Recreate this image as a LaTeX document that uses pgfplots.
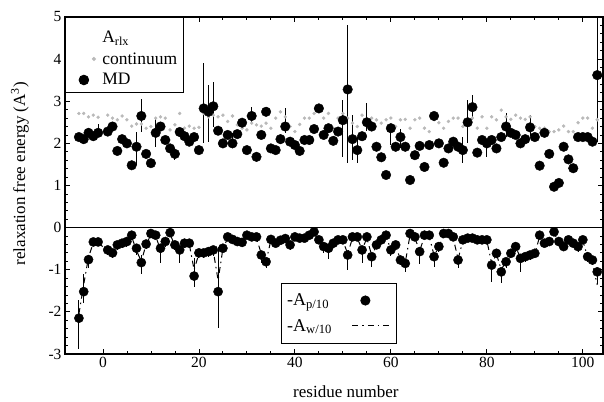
\documentclass[border=0pt]{standalone}
\usepackage{fontspec}
\setmainfont{Liberation Serif}
\usepackage{pgfplots}
\usepackage{pgfplotstable}
\pgfplotsset{compat=1.18}

% residue, MD relaxation (+/-), continuum, -A_p/10 (+/-), -A_w/10
\pgfplotstableread{
res md ep em cont ap aep aem aw
-5 2.15 .08 .08 2.71 -2.15 .43 .72 -2.05
-4 2.10 .08 .08 2.71 -1.52 .43 .28 -1.35
-3 2.25 .08 .08 2.63 -0.76 .05 .20 -0.70
-2 2.17 .08 .08 2.67 -0.34 .05 .10 -0.36
-1 2.25 .20 .08 2.62 -0.34 .05 .10 -0.36
1 2.28 .10 .10 2.67 -0.53 .05 .12 -0.55
2 2.40 .10 .10 2.60 -0.60 .05 .12 -0.62
3 1.82 .10 .10 2.56 -0.41 .05 .12 -0.43
4 2.10 .10 .10 2.65 -0.37 .05 .12 -0.39
5 2.00 .10 .10 2.56 -0.33 .05 .12 -0.35
6 1.48 .10 .10 2.41 -0.18 .05 .12 -0.22
7 1.92 .36 .43 2.46 -0.49 .05 .15 -0.55
8 2.65 .40 .37 2.46 -0.83 .18 .26 -0.80
9 1.75 .10 .10 2.36 -0.39 .05 .12 -0.40
10 1.53 .10 .10 2.40 -0.14 .05 .10 -0.17
11 2.25 .35 .33 2.60 -0.18 .05 .10 -0.21
12 2.40 .10 .10 2.63 -0.49 .05 .36 -0.52
13 2.08 .10 .10 2.60 -0.33 .05 .12 -0.35
14 1.88 .10 .10 2.32 -0.12 .05 .10 -0.15
15 1.75 .10 .15 2.44 -0.41 .05 .12 -0.44
16 2.27 .10 .10 2.71 -0.53 .05 .30 -0.55
17 2.17 .10 .10 2.36 -0.37 .05 .12 -0.40
18 2.04 .10 .10 2.41 -0.37 .05 .12 -0.40
19 2.15 .10 .10 2.36 -1.15 .42 .25 -1.00
20 1.84 .10 .10 2.38 -0.60 .05 .12 -0.62
21 2.83 1.07 .83 2.71 -0.60 .05 .12 -0.62
22 2.75 .64 .71 2.63 -0.57 .05 .12 -0.60
23 2.88 .58 .48 2.67 -0.53 .05 .15 -0.56
24 2.30 .10 .10 2.63 -1.52 1.07 .87 -1.25
25 2.00 .10 .10 2.67 -0.49 .05 .12 -0.50
26 2.20 .10 .10 2.52 -0.22 .05 .10 -0.25
27 2.00 .25 .11 2.65 -0.28 .05 .10 -0.30
28 2.22 .10 .10 2.44 -0.33 .05 .10 -0.35
29 2.49 .10 .10 2.36 -0.35 .05 .10 -0.37
30 1.84 .10 .10 2.32 -0.18 .05 .10 -0.21
31 2.65 .22 .17 2.48 -0.22 .05 .10 -0.25
32 1.68 .10 .10 2.44 -0.22 .05 .10 -0.25
33 2.20 .10 .10 2.41 -0.65 .05 .20 -0.62
34 2.75 .10 .10 2.48 -0.81 .05 .15 -0.80
35 1.88 .10 .10 2.36 -0.28 .05 .10 -0.30
36 1.84 .10 .10 2.60 -0.37 .05 .10 -0.39
37 2.10 .10 .10 2.75 -0.30 .05 .10 -0.32
38 2.40 .43 .15 2.63 -0.26 .05 .10 -0.28
39 2.04 .10 .10 2.40 -0.41 .05 .12 -0.43
40 1.96 .10 .10 2.28 -0.22 .05 .10 -0.24
41 1.82 .10 .10 2.45 -0.25 .05 .10 -0.27
42 2.08 .10 .10 2.60 -0.25 .05 .10 -0.27
43 2.08 .10 .10 2.60 -0.18 .05 .10 -0.20
44 2.34 .10 .10 2.71 -0.10 .05 .10 -0.13
45 2.83 .10 .10 2.83 -0.29 .05 .10 -0.31
46 2.20 .10 .10 2.60 -0.45 .05 .15 -0.46
47 2.36 .10 .10 2.71 -0.49 .05 .25 -0.50
48 2.06 .10 .10 2.36 -0.37 .05 .12 -0.39
49 2.28 .10 .10 2.60 -0.29 .05 .10 -0.31
50 2.55 .48 .87 2.71 -0.29 .05 .10 -0.31
51 3.28 1.54 1.75 2.60 -0.65 .05 .35 -0.62
52 2.10 .57 .50 2.48 -0.22 .05 .10 -0.25
53 1.84 .32 .31 2.40 -0.22 .05 .10 -0.25
54 2.17 .10 .10 2.67 -0.53 .05 .32 -0.52
55 2.50 .45 .20 2.44 -0.22 .05 .10 -0.25
56 2.40 .10 .10 2.60 -0.69 .05 .25 -0.66
57 1.92 .10 .10 2.56 -0.41 .05 .10 -0.43
58 1.67 .10 .10 2.48 -0.29 .05 .10 -0.31
59 1.25 .10 .10 2.56 -0.18 .05 .10 -0.21
60 2.36 .10 .40 2.60 -0.53 .05 .15 -0.52
61 1.92 .10 .10 2.40 -0.41 .05 .12 -0.43
62 2.15 .20 .25 2.56 -0.77 .05 .12 -0.76
63 1.92 .10 .10 2.57 -0.85 .05 .20 -0.83
64 1.13 .10 .10 2.36 -0.14 .05 .10 -0.17
65 1.72 .10 .10 2.56 -0.22 .05 .10 -0.25
66 1.94 .10 .10 2.60 -0.57 .05 .30 -0.55
67 1.44 .10 .10 2.36 -0.18 .05 .10 -0.21
68 1.96 .10 .10 2.28 -0.18 .05 .10 -0.21
69 2.65 .10 .10 2.56 -0.69 .05 .25 -0.66
70 2.00 .10 .10 2.49 -0.45 .05 .12 -0.47
71 1.54 .10 .10 2.36 -0.14 .05 .10 -0.17
72 1.88 .10 .10 2.52 -0.14 .05 .10 -0.17
73 2.04 .10 .10 2.60 -0.22 .05 .10 -0.25
74 1.92 .10 .10 2.60 -0.77 .05 .20 -0.75
75 1.84 .32 .31 2.40 -0.29 .05 .10 -0.31
76 2.50 .53 .50 2.56 -0.25 .05 .10 -0.27
77 2.86 .30 .30 2.60 -0.25 .05 .10 -0.27
78 1.78 .10 .10 2.36 -0.29 .05 .10 -0.31
79 2.08 .10 .10 2.63 -0.29 .05 .10 -0.31
80 2.00 .10 .32 2.36 -0.29 .05 .10 -0.31
81 2.08 .10 .10 2.63 -0.89 .05 .39 -0.85
82 1.88 .10 .10 2.56 -0.61 .05 .12 -0.63
83 2.15 .10 .10 2.79 -1.05 .05 .27 -1.00
84 2.40 .31 .24 2.63 -0.81 .05 .15 -0.80
85 2.25 .10 .10 2.57 -0.61 .05 .12 -0.62
86 2.20 .10 .10 2.67 -0.45 .05 .12 -0.47
87 2.00 .10 .10 2.60 -0.73 .05 .32 -0.70
88 2.10 .10 .10 2.57 -0.69 .05 .12 -0.68
89 2.38 .29 .20 2.63 -0.65 .05 .12 -0.64
90 2.15 .10 .10 2.40 -0.61 .05 .12 -0.62
91 1.47 .10 .10 2.36 -0.18 .05 .10 -0.21
92 2.25 .10 .10 2.36 -0.37 .05 .10 -0.39
93 1.75 .10 .10 2.28 -0.33 .05 .10 -0.35
94 0.97 .10 .10 2.28 -0.10 .05 .10 -0.13
95 1.06 .10 .10 2.32 -0.33 .05 .10 -0.35
96 1.92 .10 .10 2.41 -0.45 .05 .10 -0.47
97 1.62 .10 .10 2.28 -0.29 .05 .10 -0.31
98 1.41 .10 .10 2.28 -0.37 .05 .10 -0.39
99 2.15 .10 .10 2.49 -0.45 .05 .12 -0.47
100 2.15 .10 .10 2.60 -0.29 .05 .10 -0.31
101 2.15 .10 .10 2.60 -0.69 .05 .12 -0.70
102 2.04 .10 .10 2.36 -0.77 .05 .12 -0.85
103 3.62 1.38 1.58 2.56 -1.05 .05 .30 -1.36
}\cyto

\begin{document}
\begin{tikzpicture}
\pgfplotsset{
  base/.style={
    scale only axis, width=538bp, height=337bp,
    xmin=-7.9, xmax=104.2, ymin=-3, ymax=5,
  },
  ebars/.style={
    error bars/y dir=both, error bars/y explicit, error bars/error mark=none,
    error bars/error bar style={line width=1.1pt, black},
  },
  contimg/.style={legend image code/.code={\path (0bp,0bp) (30bp,0bp); \draw[##1] plot coordinates {(24bp,0bp)};}},
  mdimg/.style={legend image code/.code={\path (0bp,0bp) (30bp,0bp); \draw[##1] plot coordinates {(14bp,0bp)};}},
  apimg/.style={legend image code/.code={\path (0bp,0bp) (58bp,0bp); \draw[##1] plot coordinates {(31bp,0bp)};}},
  awimg/.style={legend image code/.code={\path (0bp,0bp) (58bp,0bp); \draw[##1] (18bp,0bp) -- (56bp,0bp);}},
}
\begin{axis}[base, name=ax,
  xtick={0,20,...,100}, ytick={-3,...,5},
  minor x tick num=3, minor y tick num=4,
  tick align=inside,
  major tick length=5bp, minor tick length=3bp,
  axis line style={line width=1.1pt},
  every tick/.style={black, line width=0.8pt},
  tick label style={font=\fontsize{15.5bp}{18bp}\selectfont},
  /pgf/number format/assume math mode=true,
  xlabel={residue number},
  ylabel={relaxation free energy (A\textsuperscript{3})},
  every axis x label/.style={at={(axis description cs:0.522,-0.128)}, anchor=base,
    font=\fontsize{17bp}{20bp}\selectfont},
  every axis y label/.style={at={(axis description cs:-0.084,0.535)}, rotate=90, anchor=center,
    font=\fontsize{17bp}{20bp}\selectfont},
  legend cell align=left,
  legend style={at={(0,1)}, anchor=north west, draw=black, line width=0.9pt,
    font=\fontsize{17.5bp}{20bp}\selectfont, inner xsep=4bp, inner ysep=3.5bp,
    nodes={inner sep=2bp}, row sep=4bp},
]
\addlegendimage{empty legend}
\addlegendentry{\rule{0pt}{20bp}A\textsubscript{rlx}}
\addplot[only marks, mark=*, mark size=1.5bp, color=gray!55, contimg]
  table[x=res, y=cont] {\cyto};
\addlegendentry{continuum}
\addplot[only marks, mark=*, mark size=4.8bp, black, ebars, mdimg]
  table[x=res, y=md, y error plus=ep, y error minus=em] {\cyto};
\addlegendentry{MD}
\draw[line width=1.1pt] (axis cs:-7.9,0) -- (axis cs:104.2,0);
\end{axis}

\begin{axis}[base, hide axis,
  legend cell align=left, legend plot pos=right,
  legend style={at={(0.401,0.211)}, anchor=north west, draw=black, line width=0.9pt,
    font=\fontsize{18bp}{21bp}\selectfont, inner xsep=4bp, inner ysep=8.5bp,
    nodes={inner sep=2bp}, row sep=8bp},
]
\addplot[only marks, mark=*, mark size=4.6bp, black, ebars, apimg]
  table[x=res, y=ap, y error plus=aep, y error minus=aem] {\cyto};
\addlegendentry{-A\textsubscript{p/10}}
\addplot[black, line width=1pt, dash pattern=on 6bp off 4bp on 1.5bp off 4bp, awimg]
  table[x=res, y=aw] {\cyto};
\addlegendentry{-A\textsubscript{w/10}}
\end{axis}
\pgfresetboundingbox
\path[use as bounding box] ([xshift=-65bp,yshift=-48bp]ax.south west) rectangle ([xshift=1bp,yshift=17bp]ax.north east);
\end{tikzpicture}
\end{document}
